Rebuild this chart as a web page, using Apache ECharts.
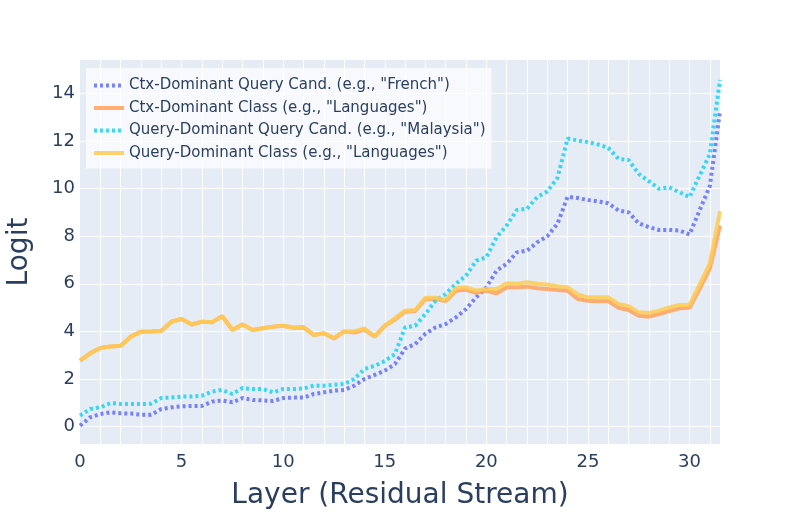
<!DOCTYPE html>
<html>
<head>
<meta charset="utf-8">
<script src="https://cdn.jsdelivr.net/npm/echarts@6/dist/echarts.min.js"></script>
<style>
  html, body { margin: 0; padding: 0; background: #fff; }
  #chart { width: 800px; height: 525px; }
</style>
</head>
<body>
<div id="chart"></div>
<script>
    var layers = [0, 0.5, 1, 1.5, 2, 2.5, 3, 3.5, 4, 4.5, 5, 5.5, 6, 6.5, 7, 7.5,
        8, 8.5, 9, 9.5, 10, 10.5, 11, 11.5, 12, 12.5, 13, 13.5, 14, 14.5, 15, 15.5,
        16, 16.5, 17, 17.5, 18, 18.5, 19, 19.5, 20, 20.5, 21, 21.5, 22, 22.5, 23, 23.5,
        24, 24.5, 25, 25.5, 26, 26.5, 27, 27.5, 28, 28.5, 29, 29.5, 30, 30.5, 31, 31.5];

    var ctxQueryCand = [0.04, 0.39, 0.53, 0.60, 0.56, 0.55, 0.50, 0.50, 0.74, 0.81, 0.85, 0.87, 0.87, 1.05, 1.10, 1.02,
        1.20, 1.12, 1.10, 1.08, 1.20, 1.22, 1.22, 1.37, 1.44, 1.51, 1.54, 1.72, 2.00, 2.17, 2.35, 2.63,
        3.28, 3.47, 3.90, 4.17, 4.31, 4.59, 4.94, 5.43, 5.85, 6.55, 6.84, 7.32, 7.39, 7.74, 8.00, 8.52,
        9.66, 9.60, 9.52, 9.46, 9.38, 9.08, 9.00, 8.54, 8.38, 8.26, 8.26, 8.24, 8.07, 9.10, 10.10, 13.25];

    var ctxClass = [2.77, 3.08, 3.30, 3.37, 3.40, 3.78, 3.99, 4.00, 4.03, 4.41, 4.52, 4.29, 4.41, 4.38, 4.64, 4.06,
        4.29, 4.06, 4.13, 4.20, 4.24, 4.15, 4.17, 3.85, 3.92, 3.70, 4.00, 3.95, 4.08, 3.78, 4.24, 4.50,
        4.83, 4.86, 5.36, 5.36, 5.27, 5.71, 5.75, 5.62, 5.71, 5.59, 5.85, 5.85, 5.88, 5.81, 5.78, 5.74,
        5.71, 5.36, 5.29, 5.27, 5.27, 4.99, 4.90, 4.66, 4.62, 4.73, 4.85, 4.97, 4.99, 5.80, 6.65, 8.45];

    var queryQueryCand = [0.46, 0.74, 0.81, 0.99, 0.95, 0.95, 0.95, 0.96, 1.20, 1.22, 1.26, 1.27, 1.30, 1.47, 1.54, 1.37,
        1.62, 1.58, 1.58, 1.44, 1.58, 1.58, 1.60, 1.72, 1.72, 1.76, 1.79, 2.00, 2.42, 2.55, 2.75, 3.05,
        4.17, 4.24, 4.73, 5.29, 5.57, 6.00, 6.34, 6.97, 7.11, 7.95, 8.45, 9.10, 9.15, 9.64, 9.88, 10.45,
        12.10, 12.02, 11.95, 11.85, 11.71, 11.25, 11.20, 10.62, 10.31, 9.99, 10.05, 9.85, 9.64, 10.55, 11.45, 14.56];

    var queryClass = [2.77, 3.08, 3.30, 3.37, 3.40, 3.78, 3.99, 4.00, 4.03, 4.41, 4.52, 4.29, 4.41, 4.38, 4.64, 4.06,
        4.29, 4.06, 4.13, 4.20, 4.24, 4.15, 4.17, 3.85, 3.92, 3.73, 4.00, 4.00, 4.13, 3.78, 4.24, 4.55,
        4.87, 4.90, 5.41, 5.41, 5.32, 5.81, 5.85, 5.71, 5.78, 5.78, 6.02, 6.00, 6.06, 6.00, 5.97, 5.90,
        5.85, 5.55, 5.43, 5.43, 5.43, 5.15, 5.06, 4.80, 4.77, 4.87, 5.01, 5.11, 5.11, 5.98, 6.86, 9.05];

    var seriesNames = [
        'Ctx-Dominant Query Cand. (e.g., "French")',
        'Ctx-Dominant Class (e.g., "Languages")',
        'Query-Dominant Query Cand. (e.g., "Malaysia")',
        'Query-Dominant Class (e.g., "Languages")'
    ];
    var seriesColors = ['#636EFA', '#FFA15A', '#19D3F3', '#FECB52'];
    var seriesValues = [ctxQueryCand, ctxClass, queryQueryCand, queryClass];
    var dotted = [true, false, true, false];

    var textColor = '#2a3f5f';
    var fontName = 'DejaVu Sans';

    function pairs(values){
        var out = [];
        for (var i = 0; i < layers.length; i++) {
            out.push([layers[i], values[i]]);
        }
        return out;
    }

    var chart = echarts.init(document.getElementById('chart'), null, {renderer: 'canvas'});

    var series = [];
    for (var k = 0; k < seriesNames.length; k++) {
        series.push({
            name : seriesNames[k],
            type : 'line',
            symbol : 'none',
            smooth : false,
            color : seriesColors[k],
            lineStyle : {
                width : 4,
                color : seriesColors[k],
                opacity : 0.85,
                type : dotted[k] ? [3, 3] : 'solid'
            },
            data : pairs(seriesValues[k])
        });
    }

    var option = {
        backgroundColor : '#fff',
        animation : false,
        textStyle : { fontFamily : fontName, color : textColor },
        grid : {
            left : 80,
            right : 80,
            top : 60,
            bottom : 81,
            show : true,
            outerBoundsMode : 'none',
            containLabel : false,
            backgroundColor : '#E5ECF6',
            borderWidth : 0
        },
        legend : {
            orient : 'vertical',
            left : 86,
            top : 68,
            itemWidth : 30,
            itemHeight : 15,
            itemGap : 7.5,
            padding : [10, 6, 8, 6],
            backgroundColor : 'rgba(255,255,255,0.7)',
            itemStyle : { opacity : 0 },
            lineStyle : { width : 4 },
            textStyle : { fontFamily : fontName, fontSize : 15, color : textColor },
            data : seriesNames
        },
        xAxis : {
            type : 'value',
            min : 0,
            max : 31.5,
            interval : 1,
            name : 'Layer (Residual Stream)',
            nameLocation : 'middle',
            nameGap : 38,
            nameTextStyle : { fontFamily : fontName, fontSize : 28, color : textColor },
            axisLine : { show : false },
            axisTick : { show : false },
            axisLabel : {
                fontFamily : fontName,
                fontSize : 18,
                color : textColor,
                margin : 9,
                showMaxLabel : false,
                formatter : function(v){
                    return v % 5 === 0 ? String(v) : '';
                }
            },
            splitLine : {
                show : true,
                showMinLine : false,
                showMaxLine : false,
                lineStyle : { color : '#ffffff', width : 1 }
            }
        },
        yAxis : {
            type : 'value',
            min : -0.73,
            max : 15.4,
            splitNumber : 8,
            name : 'Logit',
            nameLocation : 'middle',
            nameGap : 46,
            nameTextStyle : { fontFamily : fontName, fontSize : 28, color : textColor },
            axisLine : { show : false },
            axisTick : { show : false },
            axisLabel : {
                fontFamily : fontName,
                fontSize : 18,
                color : textColor,
                margin : 5,
                showMinLabel : false,
                showMaxLabel : false
            },
            splitLine : {
                show : true,
                showMinLine : false,
                showMaxLine : false,
                lineStyle : { color : '#ffffff', width : 1 }
            }
        },
        series : series
    };

    chart.setOption(option);
</script>
</body>
</html>
